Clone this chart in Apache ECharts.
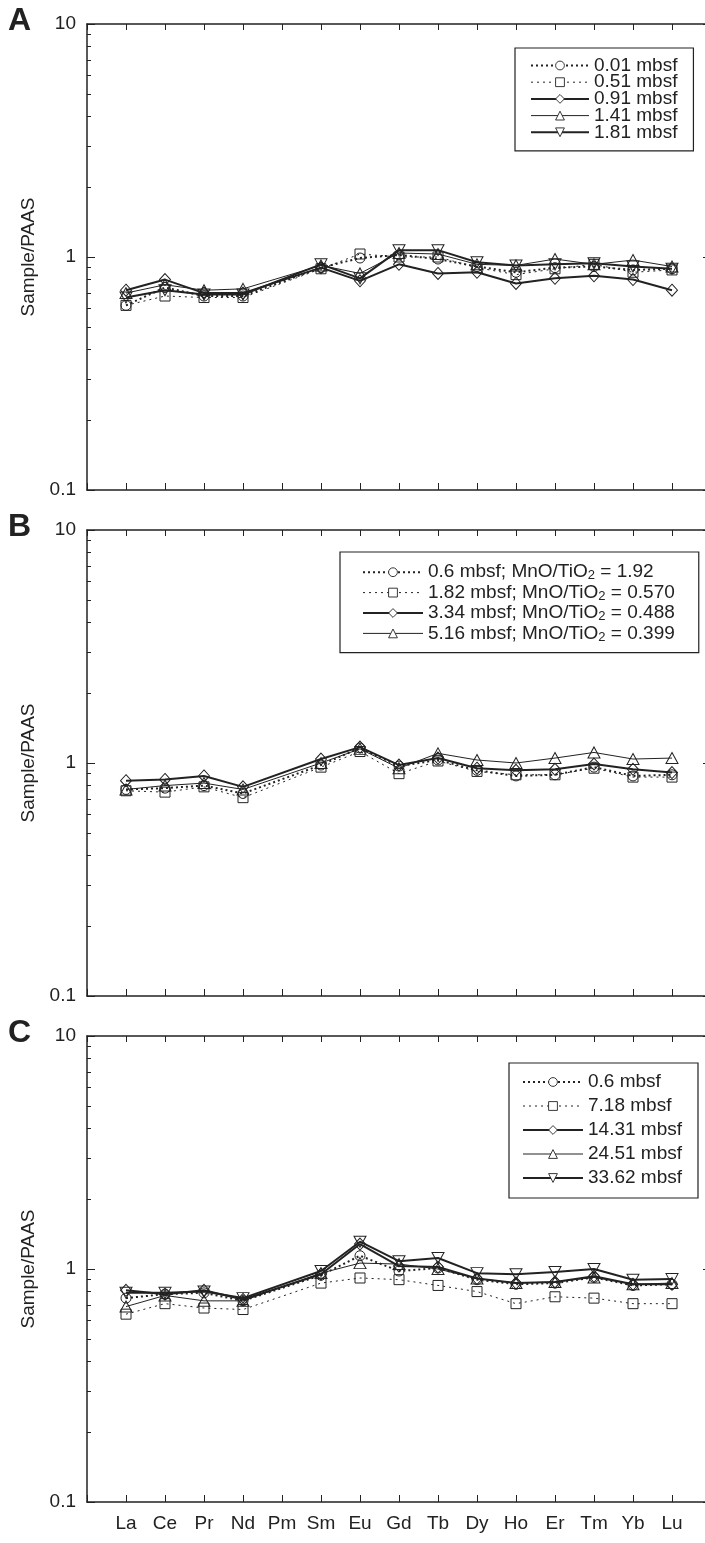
<!DOCTYPE html>
<html><head><meta charset="utf-8">
<script src="https://cdn.jsdelivr.net/npm/echarts@6/dist/echarts.min.js"></script>
<style>html,body{margin:0;padding:0;background:#fff}#c{width:705px;height:1543px}</style>
</head><body><div id="c"></div>
<script>
// ---- data ----
const elements = ['La','Ce','Pr','Nd','Pm','Sm','Eu','Gd','Tb','Dy','Ho','Er','Tm','Yb','Lu'];
const yTickValues = [0.1, 1, 10];
const minorTickValues = [0.2,0.3,0.4,0.5,0.6,0.7,0.8,0.9,2,3,4,5,6,7,8,9];
const panelLetters = ['A','B','C'];
const yAxisTitle = 'Sample/PAAS';

// Panel A
const namesA = ['0.01 mbsf','0.51 mbsf','0.91 mbsf','1.41 mbsf','1.81 mbsf'];
const a_001 = [0.62,0.74,0.68,0.68,null,0.90,0.99,1.02,0.98,0.91,0.86,0.90,0.91,0.88,0.89];
const a_051 = [0.62,0.68,0.67,0.67,null,0.89,1.03,1.00,1.00,0.90,0.84,0.89,0.93,0.86,0.88];
const a_091 = [0.72,0.80,0.70,0.70,null,0.90,0.79,0.93,0.85,0.86,0.77,0.81,0.83,0.80,0.72];
const a_141 = [0.70,0.76,0.72,0.73,null,0.92,0.85,1.04,1.03,0.93,0.92,0.98,0.93,0.97,0.91];
const a_181 = [0.67,0.72,0.69,0.69,null,0.93,0.81,1.07,1.07,0.95,0.92,0.93,0.94,0.91,0.89];

// Panel B
const namesB = ['0.6 mbsf; MnO/TiO₂ = 1.92','1.82 mbsf; MnO/TiO₂ = 0.570','3.34 mbsf; MnO/TiO₂ = 0.488','5.16 mbsf; MnO/TiO₂ = 0.399'];
const b_06  = [0.77,0.78,0.80,0.74,null,0.98,1.16,0.97,1.03,0.93,0.88,0.89,0.96,0.88,0.89];
const b_182 = [0.76,0.75,0.79,0.71,null,0.96,1.12,0.90,1.02,0.92,0.89,0.89,0.95,0.87,0.87];
const b_334 = [0.84,0.85,0.88,0.79,null,1.04,1.17,0.98,1.05,0.95,0.93,0.94,0.99,0.94,0.91];
const b_516 = [0.77,0.80,0.82,0.77,null,1.00,1.15,0.95,1.10,1.03,1.00,1.05,1.11,1.04,1.05];

// Panel C
const namesC = ['0.6 mbsf','7.18 mbsf','14.31 mbsf','24.51 mbsf','33.62 mbsf'];
const c_06   = [0.75,0.78,0.79,0.73,null,0.94,1.14,0.98,1.01,0.90,0.86,0.87,0.92,0.85,0.86];
const c_718  = [0.64,0.71,0.68,0.67,null,0.87,0.915,0.90,0.85,0.80,0.71,0.76,0.75,0.71,0.71];
const c_1431 = [0.81,0.78,0.81,0.74,null,0.95,1.28,1.03,1.02,0.91,0.87,0.88,0.93,0.86,0.86];
const c_2451 = [0.69,0.77,0.73,0.73,null,0.96,1.06,1.05,1.00,0.91,0.87,0.88,0.92,0.86,0.87];
const c_3362 = [0.79,0.79,0.80,0.75,null,0.98,1.31,1.08,1.115,0.96,0.95,0.97,1.00,0.90,0.905];

// ---- styles ----
const FONT = '"Liberation Sans", Arial, Helvetica, sans-serif';
const INK = '#222';
const markerStyles = [
  {symbol:'circle', size:10, rotate:0, width:2, type:[2,3]},
  {symbol:'rect', size:10, rotate:0, width:1, type:[2,4]},
  {symbol:'diamond', size:[11,12], rotate:0, width:2, type:'solid'},
  {symbol:'triangle', size:[12,11], rotate:0, width:1, type:'solid'},
  {symbol:'triangle', size:[12,11], rotate:180, width:2, type:'solid'}
];
const panels = [
  {names:namesA, series:[a_001,a_051,a_091,a_141,a_181], styles:[0,1,2,3,4]},
  {names:namesB, series:[b_06,b_182,b_334,b_516], styles:[0,1,2,3]},
  {names:namesC, series:[c_06,c_718,c_1431,c_2451,c_3362], styles:[0,1,2,3,4]}
];
const gridTops = [24, 530, 1036];
const GRID_H = 466, GRID_L = 87, GRID_W = 624;
const legendLayout = [
  {left:515, top:48, padding:[8,16,9,15], lh:19, gap:-2.3, iw:58},
  {left:340, top:552, padding:[10,24,9,22], lh:20.4, gap:0, iw:60},
  {left:509, top:1063, padding:[7,16,8,13], lh:24, gap:0, iw:60}
];
const letterTops = [5, 511, 1017];

const grid = [], xAxis = [], yAxis = [], series = [], legend = [], graphic = [];
panels.forEach((p, i) => {
  grid.push({left:GRID_L, top:gridTops[i], width:GRID_W, height:GRID_H,
    containLabel:false, outerBoundsMode:'none'});
  const lineCfg = {show:true, onZero:false, lineStyle:{color:INK, width:1.5}};
  // bottom x
  xAxis.push({gridIndex:i, type:'value', position:'bottom', min:-1, max:15, interval:1,
    axisLine:lineCfg, splitLine:{show:false},
    axisTick:{show:true, inside:true, length:7, lineStyle:{color:INK, width:1}},
    axisLabel:{show:i===2, margin:12, fontFamily:FONT, fontSize:19, color:INK,
      formatter:v => (elements[v] !== undefined ? elements[v] : '')}});
  // top x
  xAxis.push({gridIndex:i, type:'value', position:'top', min:-1, max:15, interval:1,
    axisLine:lineCfg, splitLine:{show:false},
    axisTick:{show:true, inside:true, length:6, lineStyle:{color:INK, width:1}},
    axisLabel:{show:false}});
  // left log main
  yAxis.push({gridIndex:i, type:'log', logBase:10, position:'left', min:0.1, max:10,
    axisLine:lineCfg, splitLine:{show:false}, minorTick:{show:false},
    axisTick:{show:true, inside:true, length:8, lineStyle:{color:INK, width:1}},
    axisLabel:{show:true, margin:11, fontFamily:FONT, fontSize:19, color:INK,
      formatter:v => String(+v.toPrecision(3))},
    name:yAxisTitle, nameLocation:'middle', nameGap:47, nameRotate:90,
    nameTextStyle:{fontFamily:FONT, fontSize:19, color:INK}});
  // left minor ticks helper (log10 space)
  yAxis.push({gridIndex:i, type:'value', position:'left', min:-1, max:1,
    axisLine:{show:false, onZero:false}, splitLine:{show:false}, axisLabel:{show:false},
    axisTick:{show:true, inside:true, length:4, lineStyle:{color:INK, width:1},
      customValues:minorTickValues.map(v => Math.log10(v))}});
  // right log
  yAxis.push({gridIndex:i, type:'log', logBase:10, position:'right', min:0.1, max:10,
    axisLine:lineCfg, splitLine:{show:false},
    axisTick:{show:true, inside:true, length:8, lineStyle:{color:INK, width:1}},
    axisLabel:{show:false}});

  const legendData = [];
  p.series.forEach((vals, k) => {
    const st = markerStyles[p.styles[k]];
    series.push({
      type:'line', name:p.names[k], xAxisIndex:2*i, yAxisIndex:3*i,
      data: vals.map((v, j) => [j, v]).filter(d => d[1] !== null),
      symbol:st.symbol, symbolSize:st.size, symbolRotate:st.rotate, showAllSymbol:true,
      lineStyle:{color:INK, width:st.width, type:st.type},
      itemStyle:{color:'rgba(255,255,255,0)', borderColor:INK, borderWidth:1},
      emphasis:{disabled:true}, animation:false, z: 2 + k
    });
    legendData.push({name:p.names[k], lineStyle:{width:st.width, type:st.type, color:INK},
      itemStyle:{color:'#fff', borderColor:INK, borderWidth:0.9}});
  });

  const L = legendLayout[i];
  legend.push({
    data:legendData, orient:'vertical', left:L.left, top:L.top, padding:L.padding,
    itemWidth:L.iw, itemHeight:11, itemGap:L.gap, selectedMode:false,
    borderColor:INK, borderWidth:1.2, backgroundColor:'#fff',
    lineStyle:{width:'inherit'},
    textStyle:{fontFamily:FONT, fontSize:19, color:INK, lineHeight:L.lh,
      rich:{sub:{fontFamily:FONT, fontSize:13, lineHeight:12, verticalAlign:'bottom', color:INK}}},
    formatter:n => n.replace('₂','{sub|2}')
  });

  graphic.push({type:'text', left:8, top:letterTops[i],
    style:{text:panelLetters[i], font:'bold 32px ' + FONT, fill:INK}});
});

const chart = echarts.init(document.getElementById('c'), null, {renderer:'canvas'});
chart.setOption({animation:false, backgroundColor:'#fff', grid, xAxis, yAxis, series, legend, graphic});
</script>
</body></html>
